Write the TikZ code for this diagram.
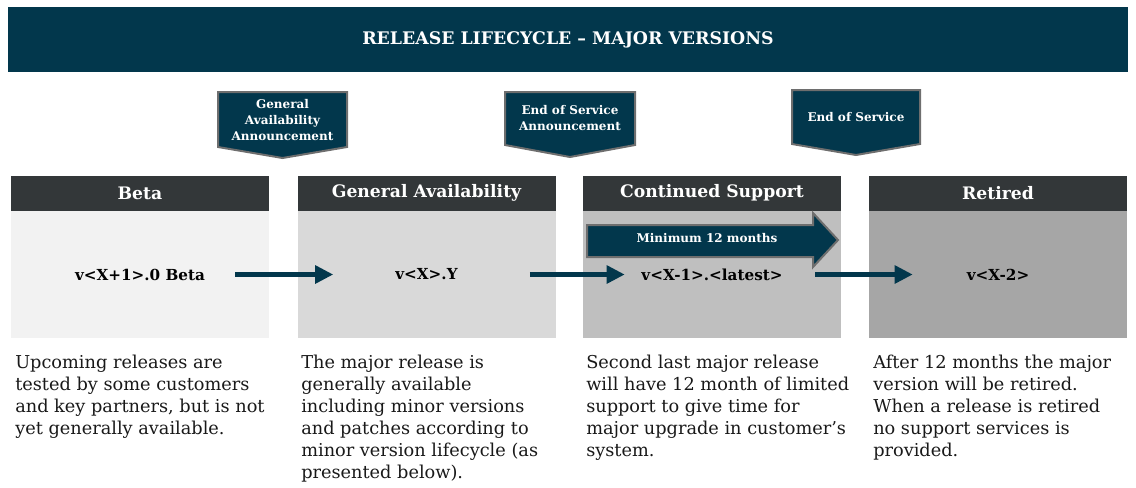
\documentclass[tikz,border=0pt]{standalone}
\usepackage{fontspec}
\setmainfont{DejaVu Serif}
\usetikzlibrary{arrows.meta}
\definecolor{navy}{HTML}{02374C}
\definecolor{bargray}{HTML}{333739}
\definecolor{edgegray}{HTML}{6E6E6E}
\definecolor{toneA}{HTML}{F2F2F2}
\definecolor{toneB}{HTML}{D9D9D9}
\definecolor{toneC}{HTML}{BFBFBF}
\definecolor{toneD}{HTML}{A6A6A6}
\tikzset{banner/.style = {fill=navy, text=white, inner sep=0pt, minimum width=840pt, minimum height=48.75pt, font=\bfseries\fontsize{13pt}{15pt}\selectfont},
         head/.style = {fill=bargray, text=white, inner sep=0pt, minimum width=193.5pt, minimum height=26.25pt, font=\bfseries\fontsize{12.9pt}{14pt}\selectfont},
         body/.style = {inner sep=0pt, minimum width=193.5pt, minimum height=95.25pt, font=\bfseries\fontsize{11.4pt}{13pt}\selectfont},
         flag/.style = {fill=navy, draw=edgegray, line width=1.5pt, line join=miter},
         flagtext/.style = {text=white, align=center, inner sep=0pt, font=\bfseries\fontsize{9pt}{12pt}\selectfont},
         note/.style = {anchor=north west, align=left, inner sep=0pt, text=black!90, font=\fontsize{13.3pt}{16.5pt}\selectfont},
         flow/.style = {-{Triangle[length=13.5pt,width=13pt]}, line width=3.4pt, navy}}

\begin{document}
\begin{tikzpicture}[x=0.75pt,y=-0.75pt]
    \useasboundingbox (0,0) rectangle (1136,487);
    \node[banner](title)at(568,39.5){RELEASE LIFECYCLE -- MAJOR VERSIONS};

    \draw[flag](218,92)--(347,92)--(347,147)--(282.5,158)--(218,147)--cycle;
    \node[flagtext](ga)at(282.5,120){General\\Availability\\Announcement};
    \draw[flag](505,92)--(635,92)--(635,145)--(570,157)--(505,145)--cycle;
    \node[flagtext](eosa)at(570,118){End of Service\\Announcement};
    \draw[flag](792,90)--(920,90)--(920,144)--(856,155)--(792,144)--cycle;
    \node[flagtext](eos)at(856,117){End of Service};

    \node[head](h1)at(140,193){Beta};
    \node[head](h2)at(426.5,193){General Availability};
    \node[head](h3)at(712,193){Continued Support};
    \node[head](h4)at(998,193){Retired};

    \node[body, fill=toneA](b1)at(140,274.5){v<X+1>.0 Beta};
    \node[body, fill=toneB](b2)at(426.5,274.5){v<X>.Y};
    \node[body, fill=toneC](b3)at(712,274.5){v<X-1>.<latest>};
    \node[body, fill=toneD](b4)at(998,274.5){v<X-2>};

    \draw[flag](587,225)--(813,225)--(813,213)--(838,240)--(813,267)--(813,257)--(587,257)--cycle;
    \node[flagtext](min)at(707,238.5){Minimum 12 months};

    \draw[flow]([xshift=-25.5pt]b1.east)--([xshift=27pt]b2.west);
    \draw[flow]([xshift=-19.5pt]b2.east)--([xshift=31.5pt]b3.west);
    \draw[flow]([xshift=-19.5pt]b3.east)--([xshift=33pt]b4.west);

    \node[note](n1)at(15,355){Upcoming releases are\\tested by some customers\\and key partners, but is not\\yet generally available.};
    \node[note](n2)at(301,355){The major release is\\generally available\\including minor versions\\and patches according to\\minor version lifecycle (as\\presented below).};
    \node[note](n3)at(586,355){Second last major release\\will have 12 month of limited\\support to give time for\\major upgrade in customer’s\\system.};
    \node[note](n4)at(873,355){After 12 months the major\\version will be retired.\\When a release is retired\\no support services is\\provided.};
\end{tikzpicture}
\end{document}
